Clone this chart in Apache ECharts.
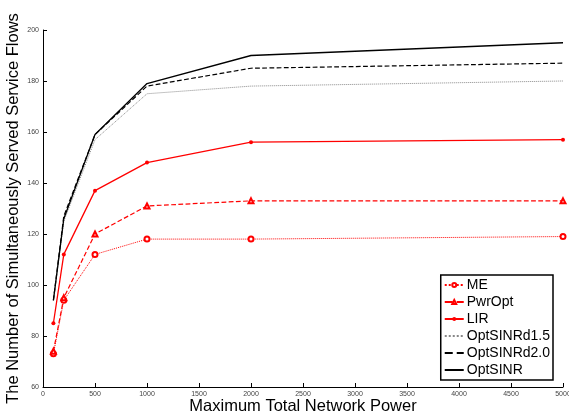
<!DOCTYPE html>
<html><head><meta charset="utf-8">
<script src="https://cdn.jsdelivr.net/npm/echarts@6/dist/echarts.min.js"></script>
<style>html,body{margin:0;padding:0;background:#fff}#c{width:569px;height:413px}</style>
</head><body><div id="c"></div>
<script>
const xValues = [100, 200, 500, 1000, 2000, 5000];
const seriesNames = ['ME', 'PwrOpt', 'LIR', 'OptSINRd1.5', 'OptSINRd2.0', 'OptSINR'];
const ME = [73, 94, 112, 118, 118, 119];
const PwrOpt = [74, 95, 120, 131, 133, 133];
const LIR = [85, 112, 137, 148, 156, 157];
const OptSINRd15 = [94, 125, 157, 175, 178, 180];
const OptSINRd20 = [94, 127, 159, 178, 185, 187];
const OptSINR = [94, 126, 159, 179, 190, 195];

const pair = arr => xValues.map((x, i) => [x, arr[i]]);
const chart = echarts.init(document.getElementById('c'));
const font = 'Liberation Sans, Arial, sans-serif';
function s(name, data, color, type, symbol, symSize, width) {
  return {
    name, type: 'line', data: pair(data), symbol, symbolSize: symSize,
    showSymbol: symbol !== 'none',
    lineStyle: { color, type, width: width || 1.2 },
    itemStyle: { color: color, borderWidth: 1.1 },
    emphasis: { disabled: true }, animation: false, z: 3
  };
}
const noSym = { color: 'rgba(0,0,0,0)', borderColor: 'rgba(0,0,0,0)', opacity: 0 };
chart.setOption({
  animation: false,
  grid: { left: 43, right: 6, top: 30, bottom: 26, outerBoundsMode: 'none', containLabel: false },
  legend: {
    orient: 'vertical', right: 16, bottom: 33,
    backgroundColor: '#fff', borderColor: '#000', borderWidth: 1.5,
    padding: [3, 3, 3, 3], itemGap: 3, itemWidth: 19, itemHeight: 5,
    textStyle: { fontFamily: font, fontSize: 14, color: '#000', padding: [0, 0, 0, -2] },
    data: seriesNames.map((n, i) => i >= 3 ? { name: n, itemStyle: noSym } : { name: n })
  },
  xAxis: {
    type: 'value', min: 0, max: 5000, interval: 500,
    name: 'Maximum Total Network Power', nameLocation: 'middle', nameGap: 11, nameMoveOverlap: false,
    nameTextStyle: { fontFamily: font, fontSize: 16.5, color: '#000' },
    axisLine: { lineStyle: { color: '#000', width: 1 } },
    axisTick: { inside: true, length: 4, lineStyle: { color: '#000' } },
    axisLabel: { fontFamily: font, fontSize: 7, color: '#444', margin: 4, formatter: v => String(v) },
    splitLine: { show: false }
  },
  yAxis: {
    type: 'value', min: 60, max: 200, interval: 20,
    name: 'The Number of Simultaneously Served Service Flows', nameLocation: 'middle', nameGap: 21, nameMoveOverlap: false,
    nameTextStyle: { fontFamily: font, fontSize: 16.5, color: '#000' },
    axisLine: { show: true, lineStyle: { color: '#000', width: 1 } },
    axisTick: { show: true, inside: true, length: 4, lineStyle: { color: '#000' } },
    axisLabel: { fontFamily: font, fontSize: 7, color: '#444', margin: 4, formatter: v => String(v) },
    splitLine: { show: false }
  },
  series: [
    s('ME', ME, '#ff0000', 'dotted', 'emptyCircle', 5, 1),
    s('PwrOpt', PwrOpt, '#ff0000', 'dashed', 'emptyTriangle', 5, 1.2),
    s('LIR', LIR, '#ff0000', 'solid', 'circle', 4, 1.3),
    s('OptSINRd1.5', OptSINRd15, '#888888', 'dotted', 'none', 0, 1),
    s('OptSINRd2.0', OptSINRd20, '#000000', 'dashed', 'none', 0, 1.2),
    s('OptSINR', OptSINR, '#000000', 'solid', 'none', 0, 1.3)
  ]
});
</script></body></html>
